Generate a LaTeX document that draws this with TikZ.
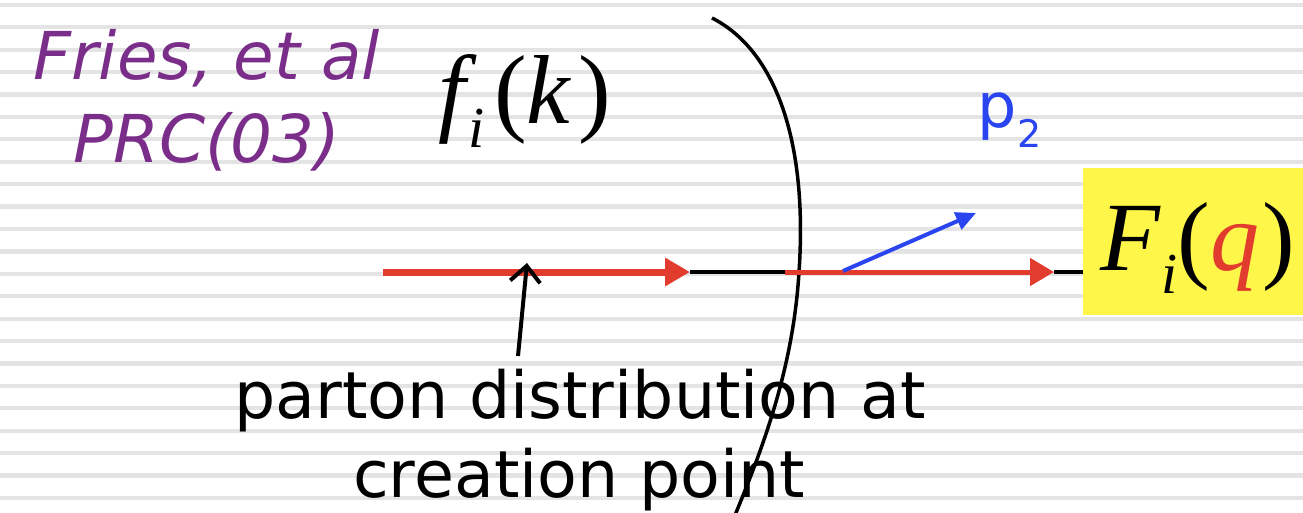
\documentclass[tikz,border=0pt]{standalone}
\usepackage{fontspec}
\usetikzlibrary{arrows.meta}
\newfontfamily\vsans{DejaVu Sans}
\newfontfamily\tms{Liberation Serif}
\definecolor{stripe}{HTML}{E4E4E4}
\definecolor{friespurple}{HTML}{7A2E8A}
\definecolor{partonred}{HTML}{E23C2E}
\definecolor{pblue}{HTML}{2A45F0}
\definecolor{boxyellow}{HTML}{FFF64A}
\tikzset{
  plain/.style={inner sep=0pt, outer sep=0pt},
  friestext/.style={plain, anchor=base, text=friespurple, font=\vsans\itshape\fontsize{66bp}{66bp}\selectfont},
  labeltext/.style={plain, anchor=base, text=black, font=\vsans\fontsize{65bp}{65bp}\selectfont},
  mathtext/.style={plain, anchor=base, font=\tms\fontsize{98bp}{98bp}\selectfont},
  redline/.style={draw=partonred, line width=7bp},
  redline2/.style={draw=partonred, line width=5bp},
  blackline/.style={draw=black, line width=3.5bp},
}
\newcommand{\subi}{\raisebox{-0.24em}{\fontsize{58bp}{58bp}\selectfont\itshape i}}
\begin{document}
\begin{tikzpicture}[x=1bp,y=-1bp]
\useasboundingbox (0,0) rectangle (1303,513);
\fill[white] (0,0) rectangle (1303,513);
\foreach \k in {0,...,22} \fill[stripe] (0,{5+22.4*\k-2.1}) rectangle (1303,{5+22.4*\k+2.1});

% yellow box
\node[plain, fill=boxyellow, minimum width=220bp, minimum height=147bp] (Fbox) at (1193,241.5) {};
\node[mathtext] (Ftext) at (1198,270) {\itshape F\kern1bp\subi\upshape(\textcolor{partonred}{\itshape q}\kern3bp)};

% labels
\node[friestext] (fries1) at (207,80) {Fries, et al};
\node[friestext] (fries2) at (207,163) {PRC(03)};
\node[mathtext] (fk) at (525,124) {\itshape f\kern2bp\subi\kern10bp\upshape(\itshape k\kern8bp\upshape)};
\node[plain, anchor=base west, text=pblue, font=\vsans\fontsize{62bp}{62bp}\selectfont] (p2) at (977,128) {p\kern1bp\raisebox{-20bp}{\fontsize{38bp}{38bp}\selectfont 2}};
\node[labeltext] (lab1) at (580,418) {parton distribution at};
\node[labeltext] (lab2) at (579,497) {creation point};

% coordinates on the parton line
\coordinate (start) at (383,272);
\coordinate (tip1) at (690,272);
\coordinate (cross) at (785,272);
\coordinate (tip2) at (1054,272);
\coordinate (bstart) at (843,271);
\coordinate (btip) at (976,213);
\coordinate (upfoot) at (518,356);
\coordinate (uptip) at (527,263);

% creation surface curve
\draw[line width=3.5bp, black] (712,18) .. controls (775,50) and (808,140) .. (799,272)
  .. controls (793,370) and (762,450) .. (733,520);

% lines
\draw[blackline] (tip1) -- (cross);
\draw[blackline] (tip2) -- (Fbox.west |- tip2);
\draw[redline, -{Triangle[length=25bp, width=27bp]}] (start) -- (tip1);
\draw[redline2, -{Triangle[length=24bp, width=27bp]}] (cross) -- (tip2);
\draw[pblue, line width=4bp, -{Triangle[length=20bp, width=18bp]}] (bstart) -- (btip);
\draw[black, line width=4bp, -{Straight Barb[length=16bp, width=30bp]}] (upfoot) -- (uptip);
\end{tikzpicture}
\end{document}
